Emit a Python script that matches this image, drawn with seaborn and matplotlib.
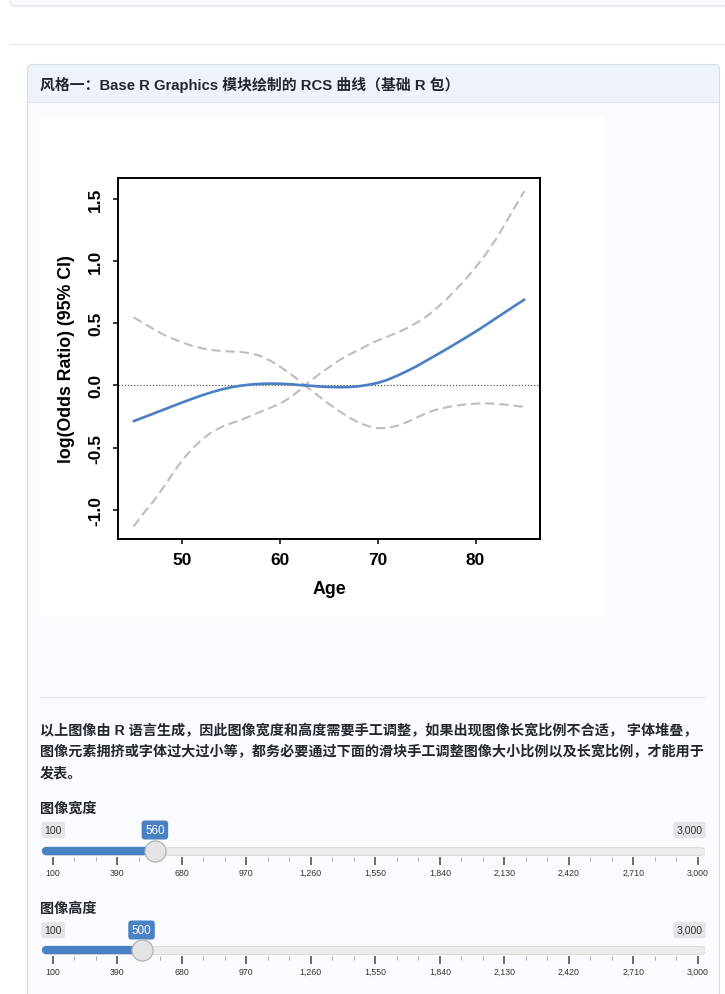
import numpy as np
import pandas as pd
import matplotlib
matplotlib.use('Agg')
import matplotlib.pyplot as plt
import seaborn as sns
from matplotlib.patches import FancyBboxPatch, Rectangle
from matplotlib.ticker import AutoMinorLocator

# RCS curve
ages = [45, 46, 47, 48, 49, 50, 51, 52, 53, 54, 55, 56, 57, 58, 59, 60, 61, 62, 62.5,
        63, 64, 65, 66, 67, 68, 69, 70, 71, 72, 73, 74, 75, 76, 77, 78, 79, 80, 81, 82, 83, 84, 85]
log_or = [-0.288, -0.258, -0.228, -0.198, -0.167, -0.137, -0.108, -0.080, -0.055, -0.033,
          -0.015, -0.002, 0.007, 0.012, 0.014, 0.013, 0.009, 0.003, 0.000,
          -0.003, -0.009, -0.013, -0.015, -0.014, -0.008, 0.004, 0.020, 0.045, 0.078, 0.115,
          0.155, 0.200, 0.245, 0.290, 0.337, 0.384, 0.432, 0.483, 0.535, 0.587, 0.639, 0.690]
ci_upper = [0.548, 0.500, 0.455, 0.410, 0.375, 0.345, 0.318, 0.298, 0.284, 0.276,
            0.272, 0.268, 0.258, 0.236, 0.198, 0.150, 0.095, 0.038, 0.000,
            0.030, 0.090, 0.145, 0.200, 0.245, 0.283, 0.325, 0.362, 0.392, 0.425, 0.460,
            0.505, 0.555, 0.620, 0.690, 0.770, 0.855, 0.948, 1.050, 1.165, 1.295, 1.430, 1.563]
ci_lower = [-1.135, -1.030, -0.935, -0.825, -0.710, -0.600, -0.510, -0.435, -0.375, -0.335,
            -0.305, -0.278, -0.245, -0.212, -0.180, -0.147, -0.100, -0.038, 0.000,
            -0.030, -0.090, -0.150, -0.205, -0.255, -0.298, -0.328, -0.345, -0.342, -0.325, -0.295,
            -0.258, -0.222, -0.195, -0.177, -0.163, -0.153, -0.147, -0.145, -0.147, -0.155, -0.164, -0.174]
x_ticks = [50, 60, 70, 80]
y_ticks = [-1.0, -0.5, 0.0, 0.5, 1.0, 1.5]
y_tick_labels = ['-1.0', '-0.5', '0.0', '0.5', '1.0', '1.5']

# page texts
card_title = '风格一：Base R Graphics 模块绘制的 RCS 曲线（基础 R 包）'
note_lines = ['以上图像由 R 语言生成，因此图像宽度和高度需要手工调整，如果出现图像长宽比例不合适， 字体堆叠，',
              '图像元素拥挤或字体过大过小等，都务必要通过下面的滑块手工调整图像大小比例以及长宽比例，才能用于',
              '发表。']
slider_names = ['图像宽度', '图像高度']
slider_values = [560, 500]
slider_min, slider_max = 100, 3000
slider_ticks = [100, 390, 680, 970, 1260, 1550, 1840, 2130, 2420, 2710, 3000]
slider_tick_labels = ['100', '390', '680', '970', '1,260', '1,550', '1,840', '2,130', '2,420', '2,710', '3,000']

sns.set_theme(style='ticks')
plt.rcParams['font.family'] = ['Liberation Sans', 'Noto Sans CJK SC', 'DejaVu Sans']

W, H = 725, 995
fig = plt.figure(figsize=(W / 100, H / 100), dpi=100)
fig.patch.set_facecolor('white')


def px_axes(x0, y0, x1, y1):
    return fig.add_axes([x0 / W, 1 - y1 / H, (x1 - x0) / W, (y1 - y0) / H])


# ---- page background ----
page = px_axes(0, 0, W, H)
page.set_xlim(0, W)
page.set_ylim(H, 0)
page.axis('off')

page.add_patch(FancyBboxPatch((10.5, -40), 740, 47, boxstyle='round,pad=0,rounding_size=5',
                              fc='#f9fbfe', ec='#dde3ea', lw=0.8))
page.plot([10, W], [44.5, 44.5], color='#e6e6e6', lw=0.8)

page.add_patch(FancyBboxPatch((27.5, 65.5), 692, 960, boxstyle='round,pad=0,rounding_size=5',
                              fc='#f9fbfe', ec='none'))
page.add_patch(FancyBboxPatch((27.5, 65.5), 692, 37, boxstyle='round,pad=0,rounding_size=5',
                              fc='#edf2fb', ec='none'))
page.add_patch(Rectangle((27.5, 90), 692, 12.5, fc='#edf2fb', ec='none'))
page.plot([27.5, 719.5], [102.5, 102.5], color='#dce5f1', lw=0.8)
page.add_patch(FancyBboxPatch((27.5, 65.5), 692, 960, boxstyle='round,pad=0,rounding_size=5',
                              fill=False, ec='#d3dce8', lw=0.8))
page.text(40, 85, card_title, fontsize=10.7, weight='bold', color='#23282e', va='center')

page.add_patch(Rectangle((40, 118), 563, 500, fc='white', ec='none'))
page.plot([40, 705], [697.5, 697.5], color='#e5e8ec', lw=0.8)

for i, line in enumerate(note_lines):
    page.text(40, 731 + 21.5 * i, line, fontsize=10.15, weight='bold', color='#23282e', va='center')

# ---- RCS plot ----
ax = px_axes(118, 179, 540, 540)
ax.set_facecolor('white')
ax.axhline(0, color='#555555', lw=0.9, ls=(0, (1, 1.5)), zorder=1)
sns.lineplot(x=ages, y=ci_upper, ax=ax, color='#bdbdbd', lw=1.5, linestyle=(0, (4.5, 2.3)),
             estimator=None, sort=False)
sns.lineplot(x=ages, y=ci_lower, ax=ax, color='#bdbdbd', lw=1.5, linestyle=(0, (4.5, 2.3)),
             estimator=None, sort=False)
sns.lineplot(x=ages, y=log_or, ax=ax, color='#4a7fc1', lw=1.9, estimator=None, sort=False)
ax.set_xlim(43.4, 86.6)
ax.set_ylim(-1.236, 1.668)
ax.set_xticks(x_ticks, labels=[str(t) for t in x_ticks], weight='bold')
ax.set_yticks(y_ticks, labels=y_tick_labels, rotation=90, va='center', weight='bold')
ax.tick_params(direction='out', length=3.6, width=1.1, color='black', labelsize=12.5,
               labelcolor='black')
ax.tick_params(axis='x', pad=6)
ax.tick_params(axis='y', pad=7)
for s in ax.spines.values():
    s.set_visible(True)
    s.set_linewidth(1.4)
    s.set_color('black')
ax.set_xlabel('Age', fontsize=12.8, weight='bold', color='black')
ax.set_ylabel('log(Odds Ratio) (95% CI)', fontsize=12.8, weight='bold', color='black')
ax.xaxis.set_label_coords(0.5, -0.1385)
ax.xaxis.label.set_va('center')
ax.yaxis.set_label_coords(-0.123, 0.5)
ax.yaxis.label.set_va('center')

# ---- sliders ----
def v(px):
    return slider_min + (px - 52.5) * (slider_max - slider_min) / 645.5


slider_rows = [(809, 831, 852), (909, 931, 951)]
for name, val, (ly, by, ty) in zip(slider_names, slider_values, slider_rows):
    page.text(40, ly, name, fontsize=10.2, weight='bold', color='#23282e', va='center')
    sa = px_axes(42, by - 14, 705, ty + 6)
    sa.set_xlim(v(42), v(705))
    sa.set_ylim(ty + 6, by - 14)
    sa.patch.set_alpha(0)
    for s in sa.spines.values():
        s.set_visible(False)
    sa.set_yticks([])
    sa.plot([v(46), v(701)], [ty, ty], color='#d8d8d8', lw=6.2, solid_capstyle='round')
    sa.plot([v(46), v(701)], [ty, ty], color='#ececec', lw=5.0, solid_capstyle='round')
    sa.plot([v(46), val], [ty, ty], color='#4a80c4', lw=6.0, solid_capstyle='round')
    sns.scatterplot(x=[val], y=[ty], ax=sa, s=230, color='#e4e4e4', edgecolor='#b3b3b3',
                    linewidth=0.9, zorder=5, clip_on=False)
    sa.text(v(44.5), by, str(slider_min), ha='left', va='center', fontsize=7.6, color='#333333',
            bbox=dict(boxstyle='round,pad=0.3,rounding_size=0.25', fc='#e2e4e8', ec='none'))
    sa.text(v(702.5), by, slider_tick_labels[-1], ha='right', va='center', fontsize=7.6,
            color='#333333',
            bbox=dict(boxstyle='round,pad=0.3,rounding_size=0.25', fc='#e2e4e8', ec='none'))
    sa.text(val, by, str(val), ha='center', va='center', fontsize=8.4, color='white',
            bbox=dict(boxstyle='round,pad=0.3,rounding_size=0.25', fc='#4a80c4', ec='none'))
    sa.set_xticks(slider_ticks, labels=slider_tick_labels)
    sa.xaxis.set_minor_locator(AutoMinorLocator(3))
    sa.tick_params(axis='x', which='major', direction='out', length=5.8, width=1.1,
                   color='#444444', pad=2, labelsize=6.3, labelcolor='#333333')
    sa.tick_params(axis='x', which='minor', direction='out', length=2.9, width=0.7,
                   color='#aaaaaa')

fig.savefig('out.png', dpi=100)
